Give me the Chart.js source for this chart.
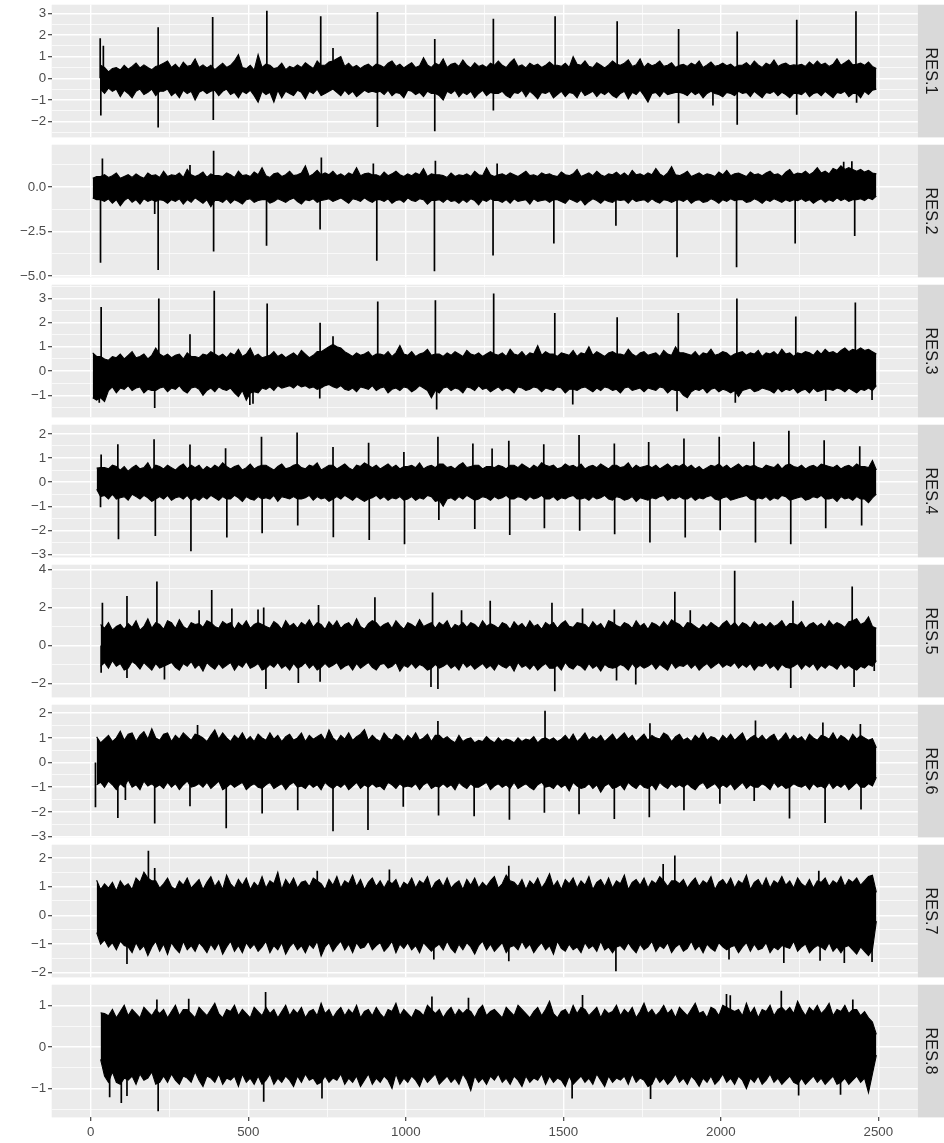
<!DOCTYPE html>
<html><head><meta charset="utf-8">
<script src="https://cdn.jsdelivr.net/npm/chart.js@4.4.1/dist/chart.umd.min.js"></script>
<style>
html,body{margin:0;padding:0;background:#ffffff;}
#wrap{position:relative;width:944px;height:1143px;overflow:hidden;background:#ffffff;}
#wrap canvas{position:absolute;left:0;}
</style></head><body><div id="wrap"></div>
<script>
// ---------------- DATA ----------------
// Observations 1..2500. Each residual series is read off the picture as
//  * bandHi / bandLo : upper / lower edge of the dense trace in consecutive 12.5-step bins
//  * spikeT / spikeV : time and value of the isolated spikes that stick out of the band
const timeRange = [1, 2500];
const binWidth = 12.5;
const panelNames = ["RES.1","RES.2","RES.3","RES.4","RES.5","RES.6","RES.7","RES.8"];
const firstBin = [2, 0, 0, 1, 2, 1, 1, 2];
const xTicks = [0, 500, 1000, 1500, 2000, 2500];
const xTickLabels = ["0", "500", "1000", "1500", "2000", "2500"];

const bandHi1 = [.6,.5,.3,.45,.5,.38,.6,.42,.55,.7, .48,.62,.5,.4,.55,.6,.7,.8,.5,.65, .45,.75,.55,.6,.9,.5,.62,.48,.6,.4,
 .55,.7,.5,.6,.8,1.1,.5,.45,.6,.38, 1.1,.5,.65,.6,.45,.5,.7,.4,.55,.48, .62,.5,.72,.58,.45,.8,.6,.6,.75,.8,
 .9,1.0,.55,.7,.5,.6,.45,.58,.65,.5, .65,.6,.5,.7,.8,.55,.65,.48,.6,.72, .5,.58,.95,.62,.5,.7,.6,.9,.5,.65,
 .7,.55,.85,.6,.48,.72,.55,.62,.5,.7, .6,.8,.6,.5,.72,.9,.55,.62,.48,.7, .58,.65,.5,.6,.75,.6,.6,.55,.7,.5,
 1.0,.65,.6,.8,.55,.5,.72,.6,.48,.62, .8,.65,.6,.7,.85,.55,.62,.9,.5,.7, .58,.65,.8,.55,.6,.72,.5,.6,.65,.55,
 .7,.6,.8,.5,.62,.75,.55,.6,.7,.58, .65,.5,.6,.6,.72,.55,.8,.62,.5,.7, .6,.85,.55,.65,.7,.58,.62,.6,.65,.55,
 .75,.6,.8,.62,.7,.55,.65,.9,.6,.72, .85,.62,.65,.7,.6,.75,.55,.45];
const bandLo1 = [-.5,-.7,-.45,-.6,-.5,-.85,-.55,-.7,-.9,-.6, -.5,-.75,-.65,-.5,-.8,-.6,-.6,-.5,-.8,-.65, -.9,-.55,-.7,-.6,-1.0,-.65,-.55,-.7,-.6,-.55,
 -.8,-.6,-.5,-.75,-.65,-.9,-.6,-.7,-.55,-.8, -1.1,-.6,-.75,-.65,-1.1,-.55,-.9,-.6,-.7,-.8, -.55,-.65,-.95,-.6,-.7,-.5,-.8,-.7,-.6,-.5,
 -.65,-.8,-.55,-.75,-.6,-.85,-.7,-.55,-.65,-.6, -.65,-.6,-.75,-.55,-.8,-.65,-.7,-.9,-.55,-.6, -.75,-.65,-.85,-.6,-.7,-.7,-.8,-1.0,-.6,-.7,
 -.55,-.85,-.65,-.75,-.6,-.9,-.7,-.55,-.8,-.65, -.7,-.7,-.6,-.8,-.9,-.65,-.7,-.55,-.85,-.6, -.75,-.95,-.65,-.7,-.6,-.9,-.75,-.6,-.85,-.65,
 -.7,-.9,-.55,-.8,-.7,-.6,-.85,-.65,-.75,-.6, -.8,-.9,-.7,-.6,-.95,-.65,-.75,-.55,-.8,-1.1, -.7,-.65,-.85,-.6,-.75,-.7,-.65,-.65,-.7,-.8,
 -.6,-.75,-.65,-.9,-.7,-.6,-.7,-.75,-.85,-.65, -.7,-.8,-.6,-.7,-.65,-.85,-.6,-.75,-.9,-.65, -.7,-.6,-.8,-.65,-.75,-.9,-.7,-.7,-.75,-.6,
 -.85,-.7,-.65,-.8,-.6,-.75,-.9,-.65,-.7,-.6, -.85,-.7,-.7,-.9,-.6,-.75,-.55,-.5];
const spikeT1 = [30,40,214,387,559,730,769,910,1092,1278,1474,1671,1866,2052,2241,2429,
 32,214,389,910,1092,1278,1866,1975,2052,2241,2431];
const spikeV1 = [1.85,1.5,2.36,2.83,3.12,2.87,1.4,3.06,1.82,2.75,2.87,2.64,2.28,2.16,2.7,3.1,
 -1.72,-2.27,-1.93,-2.25,-2.45,-1.49,-2.07,-1.26,-2.14,-1.68,-1.13];

const bandHi2 = [.5,.6,.6,.7,.55,.65,.8,.5,.6,.7, .55,.75,.6,.5,.8,.65,.7,.55,.9,.6, .7,.65,.8,.55,1.0,.7,.6,.7,.85,.55,
 .75,.65,.65,.6,.8,.7,.55,.9,.65,.7, .6,.85,.7,1.1,.65,.55,.75,.8,.6,.7, .9,.65,.7,.8,1.2,.6,.75,.95,.7,.8,
 .7,.9,.65,.75,.6,.8,.7,1.1,.65,.75, .8,.7,.7,.6,.85,.65,.75,.9,.7,.6, .75,.65,.8,.7,1.05,.6,.75,.7,.7,.65,
 .55,.8,.6,.7,.65,.75,.6,.9,.7,.65, 1.1,.7,.6,.7,.75,.65,.8,.7,.6,.75, .9,.65,.7,.6,.8,.7,.75,.65,.6,.85,
 .7,.65,.75,1.0,.6,.7,.8,.65,.9,.7, .6,.75,.7,.85,.65,.8,.6,.95,.7,.75, .65,.8,.7,1.05,.75,.6,.8,1.15,.7,.65,
 .75,.9,.6,.7,.8,.65,.75,.7,.6,.85, .7,.95,.65,.75,.8,.7,.6,.85,.7,.75, .65,.8,.9,.7,.75,.6,.85,1.0,.7,.8,
 .75,.9,.7,.85,1.1,.8,.9,.75,1.05,.95, 1.2,1.0,1.1,1.0,.9,1.0,.85,.95,.8,.75];
const bandLo2 = [-.6,-.7,-.7,-.8,-.65,-.9,-.7,-1.05,-.75,-.6, -.85,-.7,-.95,-.65,-.8,-.7,-.8,-.7,-.75,-.9, -.7,-.8,-.65,-.95,-.7,-.85,-.6,-.75,-.9,-.7,
 -1.1,-.75,-.75,-.85,-.65,-.9,-.7,-.8,-.95,-.7, -.65,-.85,-.75,-.7,-.7,-.9,-.8,-.65,-.75,-.85, -.7,-.6,-.8,-.95,-.7,-.75,-.65,-.85,-.75,-.7,
 -.65,-.8,-.7,-.6,-.75,-.9,-.65,-.7,-.8,-.6, -.75,-.85,-.7,-.7,-.8,-.65,-.9,-.75,-.7,-.85, -.6,-.75,-.8,-.65,-.7,-.95,-.75,-.75,-.7,-.85,
 -.65,-.8,-.75,-.9,-.7,-.85,-.65,-.75,-1.0,-.7, -.8,-.65,-.75,-.75,-.85,-.7,-.9,-.65,-.8,-.75, -.7,-.95,-.65,-.8,-.75,-.7,-.85,-.7,-.7,-.8,
 -.9,-.65,-.75,-.85,-.7,-1.0,-.8,-.65,-.75,-.9, -.7,-.8,-.85,-.7,-.75,-.7,-.9,-.65,-.8,-.75, -.7,-.85,-.65,-.8,-.9,-.7,-.75,-.85,-.75,-.7,
 -.8,-.65,-.9,-.75,-.7,-.85,-.8,-.65,-.75,-.9, -.7,-.8,-.65,-.75,-.7,-.7,-.85,-.8,-.65,-.75, -.9,-.7,-.8,-.65,-.75,-.85,-.7,-.8,-.7,-.75,
 -.65,-.8,-.7,-.9,-.75,-.65,-.85,-.7,-.8,-.6, -.75,-.65,-.8,-.7,-.7,-.65,-.75,-.6,-.7,-.5];
const spikeT2 = [37,315,390,732,897,1094,1290,2390,2416,
 31,203,214,390,558,728,908,1091,1277,1470,1667,1861,2050,2236,2425];
const spikeV2 = [1.62,1.25,2.05,1.67,1.33,1.48,1.33,1.43,1.46,
 -4.24,-1.5,-4.66,-3.61,-3.29,-2.38,-4.14,-4.73,-3.84,-3.16,-2.17,-3.94,-4.5,-3.16,-2.74];

const bandHi3 = [.75,.6,.6,.5,.45,.6,.55,.7,.5,.65, .8,.55,.6,.7,.5,.65,.95,.7,.6,.7, .55,.65,.7,.5,.75,.6,.6,.55,.7,.65,
 .8,.7,.6,.7,.55,.75,.65,.9,.6,.7, .95,.6,.7,.55,.6,.65,.8,.6,.7,.55, .65,.75,.6,.85,.7,.55,.65,.8,.8,.9,
 1.0,1.1,1.0,.95,.8,.7,.6,.75,.65,.7, .8,.6,.7,.7,.65,.8,.6,.75,1.05,.7, .65,.8,.6,.7,.75,.9,.65,.7,.7,.6,
 .75,.65,.8,.7,.6,.85,.7,.65,.75,.6, .7,.8,.7,.65,.75,.6,.9,.7,.65,.8, .6,.75,.7,1.05,.65,.8,.7,.7,.6,.75,
 .7,.65,.85,.6,.75,.7,1.0,.65,.8,.7, .6,.75,.8,.7,.7,.65,.9,.7,.6,.75, .8,.65,.7,.75,.6,.85,.7,.65,1.0,.75,
 .75,.7,.65,.8,.6,.75,.7,.9,.65,.7, .8,.75,.6,.7,.75,.8,.65,.75,.7,.85, .6,.75,.7,.8,.65,.9,.7,.75,.6,.75,
 .7,.8,.75,.65,.85,.7,.9,.75,.8,.7, .85,.95,.8,.9,.85,.95,.85,.9,.8,.7];
const bandLo3 = [-1.1,-1.2,-1.1,-1.25,-.8,-.65,-.9,-.7,-.75,-.6, -.8,-.7,-.65,-.9,-.75,-.8,-.8,-.7,-.65,-.85, -.7,-.75,-.6,-.8,-.9,-.7,-.65,-.75,-1.0,-.8,
 -.7,-.85,-.65,-.75,-.8,-.7,-.9,-1.05,-.8,-1.2, -.9,-.85,-.9,-.7,-.75,-.65,-.8,-.6,-.7,-.65, -.6,-.7,-.55,-.65,-.6,-.7,-.65,-.75,-.7,-.6,
 -.55,-.65,-.7,-.6,-.75,-.8,-.7,-.85,-.65,-.7, -.75,-.6,-.8,-.7,-.65,-.9,-.75,-.7,-.8,-.65, -.7,-.85,-.75,-.6,-.7,-.8,-1.1,-.8,-.9,-.7,
 -.65,-.8,-.7,-.75,-.9,-.65,-.7,-.8,-.6,-.75, -.7,-.85,-.75,-.65,-.8,-.7,-.75,-.9,-.65,-.7, -.8,-.75,-.65,-.7,-.85,-.7,-.75,-.8,-.65,-.7,
 -.9,-.75,-.75,-.8,-.7,-.65,-.75,-.85,-.7,-.8, -.65,-.7,-.8,-.75,-.9,-.7,-.65,-.8,-.75,-.7, -.85,-.7,-.75,-.8,-.65,-.7,-.9,-.75,-.8,-.8,
 -1.0,-1.1,-.85,-.75,-.8,-.7,-.9,-.75,-.7,-.85, -.75,-.8,-.9,-.8,-1.05,-.8,-.75,-.7,-.85,-.8, -.7,-.75,-.8,-.9,-.7,-.85,-.75,-.8,-.7,-.9,
 -.8,-.75,-.9,-.7,-.85,-.8,-.75,-.75,-.8,-.7, -.75,-.85,-.7,-.8,-.9,-.75,-.8,-.7,-.8,-.6];
const spikeT3 = [33,216,315,392,560,728,769,911,1094,1279,1473,1671,1865,2051,2238,2427,
 27,203,505,515,727,1098,1530,1861,2046,2333,2480];
const spikeV3 = [2.64,2.99,1.52,3.31,2.78,1.99,1.43,2.87,2.92,3.2,2.39,2.22,2.39,2.99,2.25,2.83,
 -1.31,-1.52,-1.4,-1.35,-1.13,-1.58,-1.38,-1.66,-1.31,-1.23,-1.19];

const bandHi4 = [.58,.6,.6,.55,.7,.65,.5,.65,.45,.6, .7,.55,.6,.8,.5,.7,.65,.55,.7,.6, .5,.65,.75,.55,.7,.6,.7,.5,.65,.55,
 .7,.6,.8,.65,.55,.65,.7,.5,.6,.75, .55,.65,.7,.7,.6,.5,.65,.75,.55,.6, .7,.75,.6,.55,.7,.65,.8,.5,.6,.7,
 .7,.55,.65,.75,.6,.5,.7,.65,.8,.7, .6,.7,.55,.65,.75,.6,.7,.55,.65,.65, .7,.6,.8,.55,.65,.7,.6,.75,.75,.6,
 .65,.55,.7,.8,.6,.65,.7,.7,.55,.65, .65,.6,.7,.65,.55,.7,.7,.6,.75,.65, .55,.7,.6,.8,.7,.65,.7,.55,.6,.75,
 .65,.7,.6,.75,.55,.65,.7,.6,.75,.65, .55,.7,.7,.6,.65,.8,.55,.7,.6,.65, .7,.6,.7,.55,.65,.75,.6,.7,.65,.75,
 .6,.7,.55,.65,.5,.6,.7,.65,.75,.6, .7,.55,.65,.75,.6,.7,.65,.7,.6,.55, .7,.65,.6,.75,.55,.7,.75,.65,.6,.7,
 .55,.65,.7,.6,.75,.7,.65,.6,.7,.55, .65,.7,.6,.75,.65,.65,.6,.9,.5];
const bandLo4 = [-.3,-.6,-.55,-.7,-.5,-.7,-.65,-.6,-.75,-.5, -.6,-.7,-.55,-.65,-.8,-.7,-.6,-.7,-.55,-.75, -.65,-.6,-.7,-.55,-.75,-.65,-.75,-.6,-.7,-.55,
 -.65,-.75,-.6,-.7,-.7,-.55,-.65,-.8,-.6,-.7, -.75,-.6,-.7,-.65,-.7,-.55,-.8,-.6,-.65,-.7, -.6,-.7,-.7,-.65,-.55,-.75,-.6,-.7,-.65,-.8,
 -.7,-.6,-.7,-.55,-.65,-.75,-.6,-.7,-.8,-.7, -.65,-.55,-.7,-.6,-.75,-.65,-.7,-.6,-.75,-.7, -.6,-.75,-.65,-.7,-.55,-.6,-.8,-.75,-1.0,-.7,
 -.65,-.75,-.6,-.7,-.55,-.65,-.75,-.7,-.6,-.65, -.75,-.6,-.7,-.65,-.55,-.7,-.7,-.6,-.65,-.75, -.6,-.7,-.65,-.55,-.7,-.7,-.6,-.75,-.65,-.7,
 -.6,-.55,-.7,-.7,-.65,-.75,-.6,-.7,-.65,-.55, -.7,-.75,-.6,-.65,-.75,-.7,-.6,-.8,-.65,-.7, -.75,-.65,-.7,-.6,-.55,-.75,-.65,-.7,-.6,-.7,
 -.7,-.6,-.75,-.65,-.7,-.6,-.55,-.7,-.75,-.65, -.6,-.75,-.7,-.65,-.6,-.55,-.7,-.75,-.65,-.7, -.6,-.75,-.65,-.7,-.55,-.6,-.75,-.7,-.65,-.6,
 -.75,-.7,-.6,-.65,-.55,-.7,-.7,-.65,-.8,-.6, -.7,-.65,-.75,-.6,-.7,-.7,-.85,-.65,-.5];
const spikeT4 = [33,86,201,315,428,542,655,769,882,994,1102,1213,1274,1327,1438,1550,1662,1771,1883,1995,2105,2216,2328,2441,
 31,88,205,318,432,544,657,770,884,996,1105,1219,1330,1440,1552,1663,1775,1887,1998,2110,2222,2333,2447];
const spikeV4 = [1.14,1.57,1.78,1.56,1.40,1.88,2.06,1.46,1.63,1.25,1.88,1.6,1.39,1.71,1.57,1.95,1.6,1.66,1.81,1.88,1.67,2.13,1.74,1.49,
 -1.04,-2.37,-2.23,-2.87,-2.30,-2.12,-1.8,-2.29,-2.40,-2.57,-1.57,-1.94,-2.19,-1.91,-2.02,-2.16,-2.5,-2.30,-1.99,-2.5,-2.57,-1.91,-1.80];

const bandHi5 = [1.1,.9,1.2,.8,1.0,1.1,.85,1.15,.95,1.3, .8,1.0,1.4,.9,1.2,1.1,.85,1.3,1.2,.9, 1.35,1.0,.85,1.2,1.1,1.15,.95,1.3,1.2,1.0,
 .9,1.25,1.1,1.2,.85,1.2,1.0,1.3,.9,1.1, 1.2,1.1,1.0,.9,1.25,1.1,.85,1.3,1.0,1.15, .9,1.2,1.05,1.35,.95,1.2,1.1,.85,1.25,1.0,
 1.3,.9,1.1,1.2,.95,1.4,1.0,.85,1.15,1.3, 1.2,.95,1.1,1.2,.9,1.3,1.05,.85,1.2,1.1, .95,1.35,1.0,1.1,1.2,.9,1.2,1.05,1.3,.85,
 1.1,1.0,1.2,.95,1.2,1.1,.9,1.3,1.0,1.15, 1.05,.9,1.2,1.1,.85,1.25,1.0,1.15,.9,1.3, 1.0,1.1,.85,1.2,1.05,1.2,.9,1.15,1.3,1.0,
 .95,1.2,1.15,1.1,.9,1.25,1.0,1.15,.85,1.3, 1.2,1.05,.95,1.2,1.1,.9,1.3,1.0,1.15,.85, 1.2,1.1,.95,1.25,1.0,1.35,1.2,1.1,.9,1.2,
 1.15,1.0,.85,1.1,.95,1.2,1.05,.9,1.15,1.3, 1.0,1.2,.95,1.2,1.1,.9,1.25,1.05,1.15,.95, 1.2,1.0,1.1,1.3,.95,1.15,1.15,1.05,1.25,.9,
 1.1,1.2,1.0,1.15,.95,1.3,1.05,1.2,1.1,.95, 1.25,1.3,1.4,1.1,1.2,1.5,1.0,.9];
const bandLo5 = [-1.1,-.9,-1.2,-.8,-1.1,-.95,-1.3,-1.2,-.85,-1.0, -1.25,-.9,-1.1,-1.3,-.95,-1.2,-1.1,-1.0,-.9,-1.15, -1.3,-.95,-1.1,-.85,-1.2,-1.0,-1.35,-.9,-1.1,-1.25,
 -.95,-1.2,-1.05,-.9,-1.3,-1.0,-1.15,-.85,-1.2,-1.1, -.95,-1.3,-1.2,-1.0,-1.15,-.9,-1.2,-1.05,-1.3,-.95, -1.2,-1.1,-.9,-1.2,-1.0,-1.3,-1.15,-.95,-1.15,-1.05,
 -.9,-1.25,-1.1,-1.0,-1.3,-.95,-1.2,-1.05,-.9,-1.15, -1.3,-1.0,-.95,-1.2,-1.1,-.9,-1.35,-1.05,-1.15,-.95, -1.2,-1.0,-1.1,-1.3,-1.2,-1.0,-1.2,-1.1,-.95,-1.2,
 -1.05,-1.3,-.9,-1.15,-1.0,-1.25,-1.1,-.95,-1.2,-1.05, -1.3,-.95,-1.1,-1.2,-1.0,-1.35,-.9,-1.15,-1.05,-1.25, -1.0,-1.3,-1.1,-.95,-1.2,-1.2,-1.05,-1.3,-.9,-1.15,
 -1.25,-1.0,-1.1,-1.3,-.95,-1.2,-1.05,-1.35,-1.0,-1.15, -1.2,-1.15,-1.0,-1.1,-1.3,-.95,-1.2,-1.05,-1.2,-1.1, -.95,-1.25,-1.0,-1.15,-1.3,-.9,-1.2,-1.05,-1.1,-.95,
 -1.2,-1.0,-1.3,-1.1,-.95,-1.2,-1.05,-.9,-1.15,-1.0, -1.1,-.9,-1.2,-1.0,-1.15,-.95,-1.3,-1.05,-1.1,-.9, -1.2,-1.05,-1.3,-1.0,-1.15,-1.2,-1.1,-.95,-1.25,-1.0,
 -1.15,-.95,-1.3,-1.05,-1.2,-1.0,-1.1,-1.25,-.95,-1.2, -1.05,-1.2,-1.3,-1.1,-1.2,-1.0,-1.1,-.8];
const spikeT5 = [37,115,210,344,384,448,531,549,723,902,1085,1177,1268,1464,1561,1662,1854,1903,2044,2229,2417,
 33,115,234,556,659,728,1080,1102,1473,1669,1730,2222,2423,2487];
const spikeV5 = [2.24,2.6,3.36,1.85,2.92,1.94,1.89,2.0,2.12,2.53,2.79,1.85,2.35,2.24,1.94,1.89,2.83,1.85,3.93,2.35,3.1,
 -1.44,-1.71,-1.8,-2.3,-1.98,-1.92,-2.19,-2.3,-2.42,-1.85,-2.06,-2.24,-2.19,-1.35];

const bandHi6 = [1.04,.8,.95,1.1,.85,1.0,1.27,.9,1.15,1.2, .85,1.1,1.25,.95,1.37,1.0,.9,1.15,1.2,.85, 1.1,.95,1.2,1.05,.9,1.15,1.1,1.0,.85,1.1,
 1.32,.95,1.2,1.0,.85,1.1,.95,1.2,.9,1.05, .85,1.15,1.0,.9,1.2,.95,1.1,.85,1.05,1.15, .9,1.0,1.2,.85,1.1,.95,1.05,1.15,.9,1.32,
 1.0,.85,1.1,.95,1.2,.9,1.05,1.15,1.34,.9, 1.1,.95,.85,1.2,1.0,.9,1.15,1.05,.85,1.1, .95,1.2,.9,1.0,1.15,.85,1.1,1.1,.95,1.05,
 .9,.8,1.1,.85,.95,1.0,.8,.9,.85,1.05, .9,.8,1.0,.85,.95,.9,.8,1.0,.85,.95, .9,1.05,.8,.95,1.0,.9,1.0,.85,.95,1.1,
 .9,1.15,.85,1.0,1.2,.9,1.05,.95,1.1,.85, 1.0,1.15,.9,1.05,1.2,.95,1.1,.85,1.0,1.15, .9,1.1,1.0,.95,1.2,1.1,.85,1.05,1.15,.9,
 1.0,.85,1.1,.95,1.2,.9,1.05,1.0,.85,1.1, .95,1.15,.9,1.05,1.2,.85,1.0,1.1,.95,1.1, .9,1.05,1.15,.85,1.0,1.2,.9,1.1,.95,1.05,
 .85,1.15,1.0,.9,1.1,1.05,.95,1.2,.9,1.1, 1.0,.85,1.15,.95,1.1,1.0,.9,.97,.6];
const bandLo6 = [-.9,-.8,-1.0,-.75,-.9,-1.1,-.85,-1.0,-.7,-1.0, -.9,-1.1,-.75,-.95,-.85,-1.0,-.9,-1.05,-.8,-1.0, -.85,-1.1,-.9,-.75,-1.0,-.95,-.85,-1.0,-.8,-1.05,
 -.9,-.75,-1.1,-1.0,-.85,-1.0,-.9,-.8,-1.1,-.95, -.85,-1.0,-1.05,-.9,-.8,-1.05,-.95,-.85,-1.1,-.9, -.8,-1.0,-.95,-1.05,-.85,-1.0,-.9,-1.1,-.8,-.95,
 -1.05,-.9,-1.0,-.85,-1.1,-.95,-.8,-1.05,-.9,-1.0, -.85,-1.0,-.95,-1.1,-.8,-.9,-1.05,-.85,-1.0,-.95, -1.0,-.85,-1.1,-.9,-.8,-1.05,-.95,-1.0,-.85,-1.0,
 -.9,-1.1,-.8,-.95,-1.05,-.85,-1.0,-1.0,-.9,-.8, -1.1,-.95,-.85,-1.0,-.9,-1.05,-.8,-1.05,-.95,-.85, -1.0,-1.1,-.9,-.8,-1.0,-.95,-1.05,-.85,-1.0,-.9,
 -1.15,-.8,-.95,-1.05,-1.0,-.85,-1.05,-.9,-1.2,-.95, -.85,-1.05,-1.0,-.9,-1.1,-.8,-.95,-1.05,-.85,-1.0, -1.05,-.9,-1.1,-.8,-.95,-1.05,-.85,-1.0,-.9,-1.0,
 -.85,-1.0,-1.1,-.9,-.8,-1.05,-.95,-.85,-1.05,-.9, -1.0,-.85,-1.1,-.95,-.8,-1.05,-.9,-1.0,-1.0,-.85, -.95,-1.1,-.8,-1.0,-.9,-1.05,-1.0,-.85,-.95,-1.0,
 -.9,-1.1,-.85,-1.0,-.95,-1.05,-.8,-1.05,-.9,-1.0, -.85,-1.1,-.95,-.8,-1.0,-1.0,-.85,-.95,-.6];
const spikeT6 = [339,1102,1442,1775,2110,2324,2443,
 15,86,110,203,315,430,544,657,769,880,992,1104,1217,1329,1440,1550,1662,1773,1883,1997,2106,2218,2331,2445];
const spikeV6 = [1.52,1.68,2.1,1.59,1.7,1.62,1.56,
 -1.81,-2.25,-1.52,-2.47,-1.77,-2.66,-2.07,-1.93,-2.79,-2.73,-1.79,-2.15,-2.18,-2.32,-2.04,-2.1,-2.29,-2.22,-1.93,-1.67,-1.56,-2.27,-2.45,-1.9];

const bandHi7 = [1.22,.9,1.1,.95,1.15,.85,1.2,1.0,1.1,.9, 1.3,1.15,1.5,1.3,1.2,1.2,.95,1.1,1.3,1.0, .9,1.2,1.05,1.3,.95,1.1,1.25,.9,1.15,1.35,
 1.0,1.2,.9,1.4,1.1,.95,1.25,1.05,1.3,.9, 1.15,1.0,1.35,.95,1.2,1.1,1.5,.9,1.25,1.05, 1.3,.95,1.15,1.2,1.0,1.3,1.2,1.1,.9,1.25,
 1.05,1.35,.95,1.2,1.1,1.4,1.0,1.25,.9,1.15, 1.3,1.0,1.2,.95,1.2,1.1,1.25,.9,1.15,1.05, 1.3,.95,1.2,1.1,1.35,.9,1.15,1.25,1.0,1.3,
 .95,1.1,1.2,.9,1.25,1.05,1.3,.95,1.15,1.0, 1.2,1.35,.95,1.1,1.4,1.2,1.15,1.0,1.25,.9, 1.2,1.05,1.3,.95,1.15,1.45,1.0,1.2,.9,1.25,
 1.1,1.3,.95,1.2,1.05,1.35,.9,1.15,1.25,1.0, 1.3,.95,1.2,1.1,1.4,.9,1.15,1.25,1.05,1.3, .95,1.2,1.1,1.35,1.2,1.0,1.2,1.2,1.1,1.25,
 .95,1.15,1.3,1.0,1.2,1.1,1.35,.9,1.15,1.25, 1.05,1.3,.95,1.2,1.1,1.4,.9,1.15,1.25,1.0, 1.3,.95,1.2,1.1,1.35,1.05,1.2,.95,1.3,1.1,
 1.0,1.25,.95,1.2,1.15,1.3,1.0,1.2,1.1,1.35, 1.0,1.25,1.15,1.3,1.05,1.2,1.35,1.4,.8];
const bandLo7 = [-.6,-1.0,-.85,-1.1,-.95,-1.2,-.9,-1.05,-1.1,-1.3, -.95,-1.2,-1.05,-1.4,-1.1,-.9,-1.25,-1.0,-1.36,-.95, -1.15,-1.3,-.9,-1.2,-1.05,-1.25,-.95,-1.1,-1.3,-1.0,
 -1.2,-.95,-1.35,-1.1,-.9,-1.25,-1.05,-1.3,-.95,-1.15, -1.0,-1.25,-1.1,-.9,-1.3,-1.05,-1.2,-.95,-1.35,-1.1, -.95,-1.2,-1.05,-1.3,-1.0,-1.15,-.9,-1.42,-1.1,-.95,
 -1.25,-1.05,-.9,-1.2,-1.0,-1.3,-.95,-1.15,-1.1,-.9, -1.2,-1.05,-.95,-1.25,-1.1,-.9,-1.3,-1.0,-1.15,-.95, -1.2,-1.05,-1.3,-.95,-1.1,-1.25,-1.1,-1.0,-1.2,-.9,
 -1.15,-1.3,-1.0,-1.2,-.95,-1.1,-1.35,-1.05,-.9,-1.2, -1.0,-1.25,-1.1,-.95,-1.3,-1.1,-1.05,-1.2,-.9,-1.15, -1.0,-1.3,-1.1,-.95,-1.2,-1.05,-1.35,-.9,-1.15,-1.25,
 -1.0,-1.2,-1.1,-1.3,-.95,-1.15,-1.05,-1.25,-.9,-1.2, -1.1,-1.3,-1.1,-1.05,-1.2,-.95,-1.15,-1.3,-1.0,-1.2, -1.1,-.9,-1.25,-1.05,-1.15,-.95,-1.3,-1.1,-1.0,-1.25,
 -1.15,-.9,-1.2,-1.05,-1.3,-1.0,-1.15,-1.25,-.95,-1.1, -1.2,-1.1,-1.05,-1.3,-1.1,-.95,-1.25,-1.0,-1.2,-1.15, -.95,-1.3,-1.1,-1.2,-1.05,-1.1,-1.15,-.9,-1.25,-1.1,
 -1.0,-1.3,-1.15,-1.05,-1.1,-1.2,-.95,-1.25,-1.1,-1.3, -1.1,-1.05,-1.2,-1.35,-1.1,-1.25,-1.4,-1.2,-.2];
const spikeT7 = [183,203,719,948,1327,1817,1854,2311,
 115,1089,1327,1667,2026,2200,2315,2392,2480];
const spikeV7 = [2.25,1.65,1.55,1.6,1.73,1.79,2.08,1.55,
 -1.69,-1.54,-1.6,-1.95,-1.54,-1.66,-1.58,-1.66,-1.62];

const bandHi8 = [.82,.8,.75,.9,.7,.85,1.0,.75,.9,.8, .7,.95,.85,.75,.9,.8,.9,.7,.85,1.0, .75,.9,.9,.8,.7,.95,.85,.75,.9,1.05,
 .8,.7,.9,.85,1.0,.75,.9,.8,.7,.95, .85,.75,.95,.8,.9,.7,.85,1.0,.75,.9, .8,.95,.7,.85,.9,.75,1.05,.8,.9,.7,
 .85,.95,.75,.9,.8,1.0,.7,.85,.9,.75, .95,.8,.7,.9,.85,1.05,.75,.9,.8,.7, .9,.85,.75,1.0,.9,.8,.9,.7,.85,.95,
 .75,.9,.8,.9,.85,.7,.9,1.0,.75,.85, .9,.8,.7,.95,.85,.75,1.0,.9,.8,.7, .85,.95,.75,.9,1.1,.8,.7,.85,.9,.75,
 1.0,.8,.95,.9,.75,.85,.95,.7,.9,.8, .85,1.0,.75,.9,.8,.95,.7,.85,1.05,.8, .9,.75,.85,1.0,.8,.9,.7,.95,.85,.75,
 .9,1.05,.8,.85,.7,.95,.9,.75,1.0,.95, .9,.85,.9,.75,1.05,.8,.95,.7,.9,.85, 1.0,.75,.9,.95,.85,.95,.8,1.1,.9,.75,
 .95,.85,1.0,.8,.9,1.05,.75,.9,.85,1.0, .8,.9,.9,.75,.85,.7,.6,.3];
const bandLo8 = [-.3,-.7,-.85,-.6,-.85,-.9,-.75,-.8,-.7,-.9, -.65,-.8,-.75,-.6,-.9,-.85,-.7,-.85,-.65,-.8, -.9,-.7,-.75,-.85,-.6,-.8,-.95,-.7,-.75,-.85,
 -.65,-.9,-.75,-.8,-.7,-.95,-.65,-.85,-.75,-.9, -.7,-.9,-.8,-.65,-.9,-.75,-.85,-.7,-.8,-.95, -.7,-.85,-.65,-.8,-.75,-.9,-.85,-.7,-.85,-.75,
 -.8,-.65,-.9,-.75,-.85,-.7,-.95,-.8,-.65,-.9, -.75,-.85,-.7,-.8,-1.0,-.65,-.9,-.75,-.85,-.7, -.8,-.95,-.7,-.85,-.75,-.65,-.9,-.8,-.7,-.85,
 -.75,-.9,-.65,-.8,-1.05,-.7,-.85,-.75,-.9,-.7, -.8,-.65,-.85,-.75,-.9,-.7,-.8,-.95,-.7,-.85, -.75,-.8,-.65,-.9,-.7,-.85,-.75,-.8,-.95,-.7,
 -.9,-.8,-.7,-.85,-.75,-.9,-.65,-.8,-.95,-.7, -.85,-.75,-.8,-.7,-.9,-.65,-.85,-.75,-.8,-.95, -.9,-.7,-.85,-.75,-.9,-.8,-.65,-.85,-.75,-.9,
 -.7,-.8,-.95,-.75,-.85,-.7,-.9,-.8,-.65,-.85, -.75,-.9,-.7,-.8,-1.0,-.75,-.85,-.7,-.9,-.8, -.65,-.85,-.75,-.9,-.8,-.7,-.85,-.9,-.75,-.9,
 -.8,-.7,-.85,-.75,-.9,-.8,-.7,-.9,-.85,-.75, -.9,-.8,-.7,-.85,-.75,-1.1,-.65,-.2];
const spikeT8 = [210,311,555,1083,1199,1561,2018,2030,2192,2419,
 60,97,115,214,549,734,1528,1777,2247,2380];
const spikeV8 = [1.14,1.16,1.32,1.21,1.18,1.25,1.27,1.24,1.35,1.14,
 -1.21,-1.35,-1.18,-1.55,-1.32,-1.24,-1.24,-1.25,-1.17,-1.15];

const yTicks1 = [-2,-1,0,1,2,3];     const yLabels1 = ["\u22122","\u22121","0","1","2","3"];
const yTicks2 = [-5,-2.5,0];         const yLabels2 = ["\u22125.0","\u22122.5","0.0"];
const yTicks3 = [-1,0,1,2,3];        const yLabels3 = ["\u22121","0","1","2","3"];
const yTicks4 = [-3,-2,-1,0,1,2];    const yLabels4 = ["\u22123","\u22122","\u22121","0","1","2"];
const yTicks5 = [-2,0,2,4];          const yLabels5 = ["\u22122","0","2","4"];
const yTicks6 = [-3,-2,-1,0,1,2];    const yLabels6 = ["\u22123","\u22122","\u22121","0","1","2"];
const yTicks7 = [-2,-1,0,1,2];       const yLabels7 = ["\u22122","\u22121","0","1","2"];
const yTicks8 = [-1,0,1];            const yLabels8 = ["\u22121","0","1"];

// ---------------- LAYOUT / STYLE ----------------
const W = 944, H = 1143;
const TOP0 = 4.7, PITCH = 140.0, PANEL_H = 132.7;
const AXIS_W = 51.7;
const STRIP_W = 26.3;
const XAXIS_H = H - (TOP0 + 7 * PITCH + PANEL_H);
const PAD = 10;
const FONT = "'Liberation Sans', Arial, Helvetica, sans-serif";
const FS = 13.3;
const FS_STRIP = 16.3;

const hiAll = [bandHi1,bandHi2,bandHi3,bandHi4,bandHi5,bandHi6,bandHi7,bandHi8];
const loAll = [bandLo1,bandLo2,bandLo3,bandLo4,bandLo5,bandLo6,bandLo7,bandLo8];
const spTAll = [spikeT1,spikeT2,spikeT3,spikeT4,spikeT5,spikeT6,spikeT7,spikeT8];
const spVAll = [spikeV1,spikeV2,spikeV3,spikeV4,spikeV5,spikeV6,spikeV7,spikeV8];
const yTickAll = [yTicks1,yTicks2,yTicks3,yTicks4,yTicks5,yTicks6,yTicks7,yTicks8];
const yLabAll = [yLabels1,yLabels2,yLabels3,yLabels4,yLabels5,yLabels6,yLabels7,yLabels8];

const xSpan = timeRange[1] - timeRange[0];
const xMin = timeRange[0] - 0.05 * xSpan, xMax = timeRange[1] + 0.05 * xSpan;

function withMinor(majors, lo, hi) {
  const step = majors[1] - majors[0];
  const out = [];
  const ext = [majors[0] - step].concat(majors, [majors[majors.length - 1] + step]);
  for (let i = 0; i < ext.length; i++) {
    const v = ext[i];
    const isMaj = i > 0 && i < ext.length - 1;
    if (isMaj && v >= lo && v <= hi) out.push({ value: v, isMajor: true, txt: null });
    if (i < ext.length - 1) {
      const m = v + step / 2;
      if (m >= lo && m <= hi) out.push({ value: m, isMajor: false, txt: null });
    }
  }
  return out;
}

const panelPlugin = {
  id: 'panelDecor',
  beforeDraw(chart, args, opts) {
    const { ctx, chartArea: a } = chart;
    ctx.save();
    ctx.fillStyle = '#EBEBEB';
    ctx.fillRect(a.left, a.top, a.right - a.left, a.bottom - a.top);
    ctx.fillStyle = '#D9D9D9';
    ctx.fillRect(a.right, a.top, W - a.right, a.bottom - a.top);
    ctx.translate(a.right + (W - a.right) / 2, (a.top + a.bottom) / 2);
    ctx.rotate(Math.PI / 2);
    ctx.fillStyle = '#1A1A1A';
    ctx.font = FS_STRIP + 'px ' + FONT;
    ctx.textAlign = 'center';
    ctx.textBaseline = 'middle';
    ctx.fillText(opts.name, 0, 0);
    ctx.restore();
  }
};

const wrap = document.getElementById('wrap');

for (let k = 0; k < 8; k++) {
  const last = (k === 7);
  const hi = hiAll[k], lo = loAll[k], sT = spTAll[k], sV = spVAll[k];
  const hiPts = [], loPts = [], spPts = [];
  for (let i = 0; i < hi.length; i++) {
    const xc = (firstBin[k] + i) * binWidth + binWidth / 2;
    hiPts.push({ x: xc, y: hi[i] });
    loPts.push({ x: xc, y: lo[i] });
  }
  for (let i = 0; i < sT.length; i++) {
    spPts.push({ x: sT[i], y: 0 }, { x: sT[i], y: sV[i] }, { x: sT[i], y: null });
  }
  const dMin = Math.min(Math.min.apply(null, lo), Math.min.apply(null, sV));
  const dMax = Math.max(Math.max.apply(null, hi), Math.max.apply(null, sV));
  const yMin = dMin - 0.05 * (dMax - dMin), yMax = dMax + 0.05 * (dMax - dMin);

  const yt = withMinor(yTickAll[k], yMin, yMax);
  yt.forEach(t => { if (t.isMajor) t.txt = yLabAll[k][yTickAll[k].indexOf(t.value)]; });
  const xt = withMinor(xTicks, xMin, xMax);
  xt.forEach(t => { if (t.isMajor) t.txt = xTickLabels[xTicks.indexOf(t.value)]; });

  const panelTop = TOP0 + k * PITCH;
  const panelBot = panelTop + PANEL_H;
  const cTop = Math.floor(panelTop) - PAD;
  const cBot = last ? H : Math.ceil(panelBot) + PAD;
  const padTop = panelTop - cTop;
  const padBot = last ? 0 : cBot - panelBot;

  const cv = document.createElement('canvas');
  cv.width = W; cv.height = cBot - cTop;
  cv.style.top = cTop + 'px';
  cv.style.width = W + 'px'; cv.style.height = (cBot - cTop) + 'px';
  wrap.appendChild(cv);

  const gridW = c => (c.tick && c.tick.isMajor) ? 1.42 : 0.71;
  const tickCol = c => (c.tick && c.tick.isMajor) ? '#333333' : 'rgba(0,0,0,0)';

  new Chart(cv.getContext('2d'), {
    type: 'line',
    data: { datasets: [
      { data: hiPts, borderColor: '#000000', borderWidth: 1.1, pointRadius: 0, tension: 0,
        fill: '+1', backgroundColor: '#000000' },
      { data: loPts, borderColor: '#000000', borderWidth: 1.1, pointRadius: 0, tension: 0,
        fill: false },
      { data: spPts, borderColor: '#000000', borderWidth: 1.7, pointRadius: 0, tension: 0,
        fill: false, spanGaps: false, borderCapStyle: 'butt' }
    ] },
    options: {
      responsive: false, animation: false, events: [],
      layout: { padding: { top: padTop, bottom: padBot, left: 0, right: STRIP_W } },
      plugins: { legend: { display: false }, tooltip: { enabled: false }, panelDecor: { name: panelNames[k] } },
      scales: {
        x: {
          type: 'linear', min: xMin, max: xMax,
          afterBuildTicks: s => { s.ticks = xt.map(t => Object.assign({}, t)); },
          afterFit: s => { s.height = last ? XAXIS_H : 0; },
          border: { display: false },
          grid: { color: '#FFFFFF', lineWidth: gridW, drawTicks: last, tickLength: 3.67,
                  tickColor: tickCol, tickWidth: 1.1 },
          ticks: { display: last, autoSkip: false, maxRotation: 0, minRotation: 0, padding: 3.4,
                   color: '#4D4D4D', font: { family: FONT, size: FS },
                   callback: (v, i, ts) => ts[i].txt || '' }
        },
        y: {
          type: 'linear', min: yMin, max: yMax,
          afterBuildTicks: s => { s.ticks = yt.map(t => Object.assign({}, t)); },
          afterFit: s => { s.width = AXIS_W; },
          border: { display: false },
          grid: { color: '#FFFFFF', lineWidth: gridW, drawTicks: true, tickLength: 3.67,
                  tickColor: tickCol, tickWidth: 1.1 },
          ticks: { autoSkip: false, padding: 1.8, color: '#4D4D4D', font: { family: FONT, size: FS },
                   callback: (v, i, ts) => ts[i].txt || '' }
        }
      }
    },
    plugins: [panelPlugin]
  });
}
</script></body></html>
